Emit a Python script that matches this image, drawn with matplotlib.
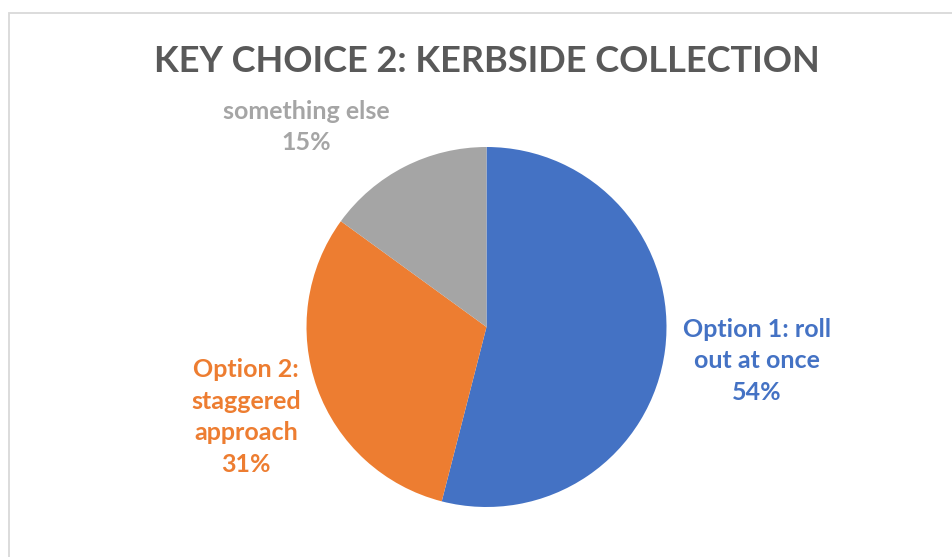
import matplotlib
matplotlib.use("Agg")
import matplotlib.pyplot as plt
from matplotlib.patches import Rectangle

title = "KEY CHOICE 2: KERBSIDE COLLECTION"
categories = ["Option 1: roll\nout at once", "Option 2:\nstaggered\napproach", "something else"]
values = [54, 31, 15]
colors = ["#4472C4", "#ED7D31", "#A5A5A5"]

W, H = 952, 557
fig = plt.figure(figsize=(W / 100, H / 100), dpi=100)
ax = fig.add_axes([0, 0, 1, 1])
ax.set_xlim(0, W)
ax.set_ylim(0, H)
ax.set_aspect("equal")
ax.axis("off")

# chart border
ax.add_patch(Rectangle((9, -5), W + 10, H - 13 + 5, fill=False, edgecolor="#D9D9D9", linewidth=1.3))

cx, cy, r = 486.5, H - 327, 180
ax.pie(values, colors=colors, startangle=90, counterclock=False,
       center=(cx, cy), radius=r, wedgeprops=dict(linewidth=0))
ax.set_xlim(0, W)
ax.set_ylim(0, H)

font = "Lato"
ax.text(486.5, H - 62, title, ha="center", va="center", fontsize=26,
        fontweight="bold", color="#595959", family=font)

label_pos = [(757, H - 361), (246, H - 417), (306, H - 127)]
total = sum(values)
for cat, v, c, (x, y) in zip(categories, values, colors, label_pos):
    ax.text(x, y, f"{cat}\n{round(100 * v / total)}%", ha="center", va="center",
            fontsize=18, fontweight="bold", color=c, family=font, linespacing=1.44)

fig.savefig("out.png", dpi=100)
